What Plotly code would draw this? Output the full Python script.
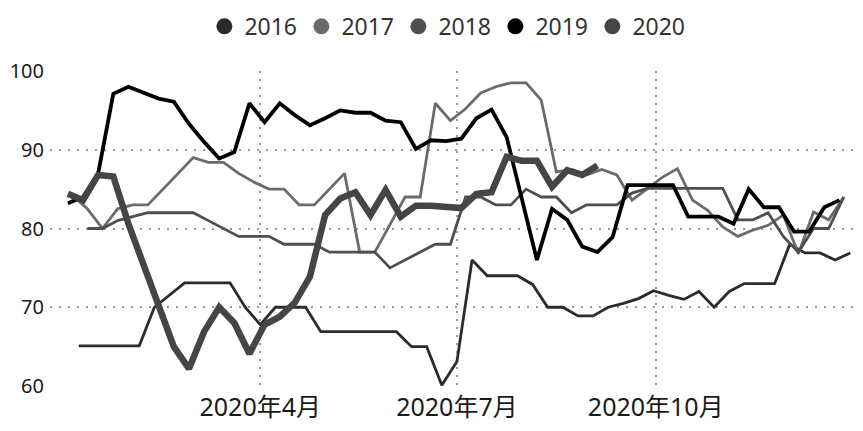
import pandas as pd
import plotly.graph_objects as go

# weekly readings, each year mapped onto the 2020 calendar
start_2016 = '2020-01-08'
start_2017 = '2020-01-05'
start_2018 = '2020-01-12'
start_2019 = '2020-01-03'
start_2020 = '2020-01-03'

v2016 = [65.1, 65.1, 65.1, 65.1, 65.1, 70, 71.5, 73.1, 73.1, 73.1, 73.1, 70,
         67.8, 70, 70, 70, 66.9, 66.9, 66.9, 66.9, 66.9, 66.9, 65, 65, 60.1, 63.1,
         76, 74, 74, 74, 72.9, 70, 70, 68.9, 68.9, 70, 70.5, 71.1, 72.1, 71.5, 71,
         72, 70, 72, 73, 73, 73, 78, 76.9, 76.9, 76, 76.9]
v2017 = [84.2, 82.5, 80, 82.5, 83, 83, 85, 87, 89, 88.4, 88.4, 87, 85.9, 85, 85,
         83, 83, 85, 87, 77, 77, 80.5, 84, 84, 95.9, 93.7, 95.2, 97.2, 98, 98.5,
         98.5, 96.3, 87.2, 87.5, 86.8, 87.5, 86.8, 83.6, 85, 86.5, 87.6, 83.6, 82.3,
         80.2, 79, 79.8, 80.4, 81.7, 76.8, 82.1, 81.1, 84]
v2018 = [80, 80, 81, 81.5, 82, 82, 82, 82, 81, 80, 79, 79, 79, 78, 78, 78, 77, 77,
         77, 77, 75, 76, 77, 78, 78, 84, 84, 83, 83, 85, 84, 84, 82, 83, 83, 83,
         84.5, 85.1, 85.1, 85.1, 85.1, 85.1, 85.1, 81.1, 81.1, 82, 79, 77, 80, 80, 84]
v2019 = [83.2, 84, 87, 97.1, 98, 97.3, 96.5, 96.1, 93.3, 91, 88.9, 89.7, 95.9,
         93.5, 95.9, 94.4, 93.1, 94, 95, 94.7, 94.7, 93.7, 93.5, 90.1, 91.2, 91.1,
         91.4, 94, 95.1, 91.6, 83.8, 76, 82.5, 81.1, 77.7, 77, 78.9, 85.5, 85.5,
         85.5, 85.5, 81.5, 81.5, 81.5, 80.6, 85, 82.7, 82.7, 79.6, 79.6, 82.7, 83.6]
v2020 = [84.4, 83.6, 86.8, 86.6, 80.6, 75.3, 70.2, 65, 62.2, 66.9, 70, 68, 64.1,
         67.8, 68.8, 70.6, 73.9, 81.7, 83.8, 84.6, 81.7, 84.9, 81.5, 82.9, 82.9,
         82.7, 82.6, 84.4, 84.6, 89.1, 88.6, 88.6, 85.3, 87.4, 86.8, 88.0]

tick_dates = ['2020-04-01', '2020-07-01', '2020-10-01']
tick_text = ['2020年4月', '2020年7月', '2020年10月']

series = [
    ('2016', start_2016, v2016, '#2b2b2b', 2.8),
    ('2017', start_2017, v2017, '#6b6b6b', 2.8),
    ('2018', start_2018, v2018, '#4f4f4f', 2.8),
    ('2019', start_2019, v2019, '#000000', 3.8),
    ('2020', start_2020, v2020, '#454545', 6.5),
]

fig = go.Figure()
for name, start, vals, color, width in series:
    dates = pd.date_range(start, periods=len(vals), freq='7D')
    fig.add_trace(go.Scatter(x=dates, y=vals, mode='lines', name=name,
                             line=dict(color=color, width=width),
                             showlegend=False))
# round legend markers
for name, start, vals, color, width in series:
    fig.add_trace(go.Scatter(x=[None], y=[None], mode='markers', name=name,
                             marker=dict(color=color, size=17)))

# page body has an 8px margin, so the figure is a bit smaller than the window
font = 'Noto Sans, Noto Sans CJK SC, sans-serif'
fig.update_layout(
    width=855, height=423,
    margin=dict(l=42, r=3, t=63, b=45, autoexpand=False),
    plot_bgcolor='white', paper_bgcolor='white',
    font=dict(family=font, color='#333333'),
    legend=dict(orientation='h', x=0.49, xanchor='center',
                y=1.21, yanchor='top',
                font=dict(size=23, color='#333333'),
                entrywidth=52, itemwidth=30),
)
fig.update_xaxes(range=['2019-12-25 17:00', '2021-01-03 12:00'],
                 tickvals=tick_dates, ticktext=tick_text,
                 tickfont=dict(size=25, color='#1a1a1a'),
                 ticklabelstandoff=4,
                 showgrid=True, gridcolor='#999999', gridwidth=1.5,
                 griddash='2px,6px', showline=False, zeroline=False, ticks='')
fig.update_yaxes(range=[60, 100], dtick=10,
                 tickfont=dict(size=20, color='#1a1a1a'),
                 ticklabelstandoff=5,
                 showgrid=True, gridcolor='#999999', gridwidth=1.5,
                 griddash='2px,7px', showline=False, zeroline=False, ticks='')

fig.write_html('out.html')
